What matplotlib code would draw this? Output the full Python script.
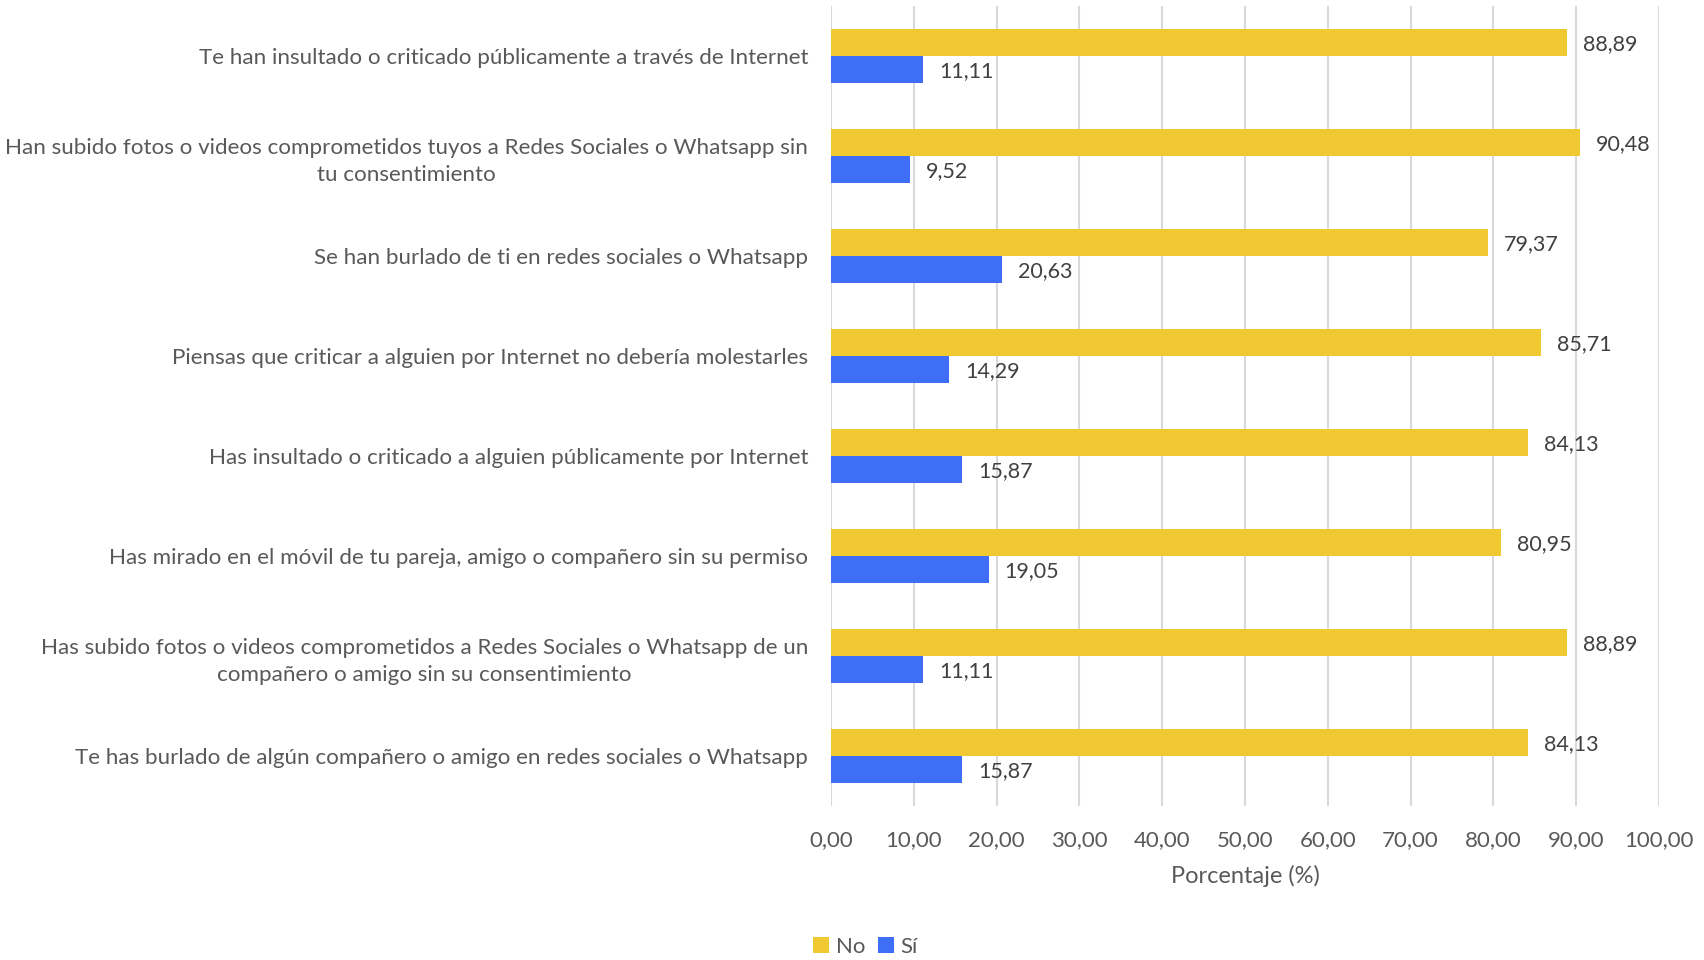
import matplotlib
matplotlib.use("Agg")
import matplotlib.pyplot as plt
import numpy as np

categories = [
    "Te han insultado o criticado públicamente a través de Internet",
    "Han subido fotos o videos comprometidos tuyos a Redes Sociales o Whatsapp sin\ntu consentimiento",
    "Se han burlado de ti en redes sociales o Whatsapp",
    "Piensas que criticar a alguien por Internet no debería molestarles",
    "Has insultado o criticado a alguien públicamente por Internet",
    "Has mirado en el móvil de tu pareja, amigo o compañero sin su permiso",
    "Has subido fotos o videos comprometidos a Redes Sociales o Whatsapp de un\ncompañero o amigo sin su consentimiento",
    "Te has burlado de algún compañero o amigo en redes sociales o Whatsapp",
]
no_vals = [88.89, 90.48, 79.37, 85.71, 84.13, 80.95, 88.89, 84.13]
si_vals = [11.11, 9.52, 20.63, 14.29, 15.87, 19.05, 11.11, 15.87]
xticks = [0, 10, 20, 30, 40, 50, 60, 70, 80, 90, 100]

plt.rcParams['font.family'] = ['Lato', 'DejaVu Sans']
TXT = '#595959'
YEL = '#F0C832'
BLU = '#3D6EF5'

fig = plt.figure(figsize=(17.04, 9.6), dpi=100)
ax = fig.add_axes([0.4877, 0.1604, 0.4859, 0.8333])

y = np.arange(len(categories))
h = 0.27
b1 = ax.barh(y - h/2, no_vals, height=h, color=YEL, label='No', zorder=3)
b2 = ax.barh(y + h/2, si_vals, height=h, color=BLU, label='Sí', zorder=3)

fmt = lambda v: f"{v:.2f}".replace('.', ',')
for bars, vals in ((b1, no_vals), (b2, si_vals)):
    for rect, v in zip(bars, vals):
        ax.annotate(fmt(v), (v, rect.get_y() + rect.get_height()/2),
                    xytext=(11.5, -1), textcoords='offset points', va='center', ha='left',
                    fontsize=15.5, color='#404040')

ax.set_ylim(len(categories) - 0.5, -0.5)
ax.set_xlim(0, 100)
ax.set_yticks(y)
ax.set_yticklabels(categories, fontsize=16.1, color=TXT, multialignment='center', linespacing=1.45)
ax.set_xticks(xticks)
ax.set_xticklabels([fmt(t) for t in xticks], fontsize=16, color=TXT)
ax.tick_params(axis='both', length=0)
ax.tick_params(axis='y', pad=16.5)
ax.tick_params(axis='x', pad=17)
ax.xaxis.grid(True, color='#D9D9D9', linewidth=1.5, zorder=0)
ax.set_axisbelow(True)
for s in ax.spines.values():
    s.set_visible(False)
ax.set_xlabel('Porcentaje (%)', fontsize=17, color=TXT, labelpad=11)

leg = fig.legend(handles=[b1, b2], labels=['No', 'Sí'], loc='center', bbox_to_anchor=(0.508, 0.0135),
                 ncol=2, frameon=False, fontsize=16, handlelength=0.7, handleheight=0.7,
                 handletextpad=0.3, columnspacing=0.6)
for t in leg.get_texts():
    t.set_color(TXT)

fig.savefig('out.png', dpi=100)
